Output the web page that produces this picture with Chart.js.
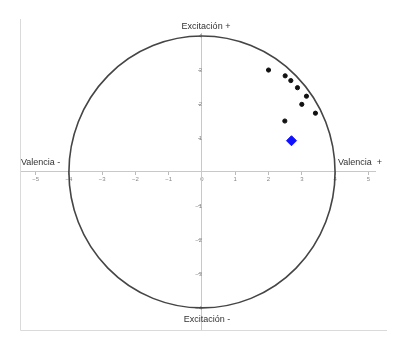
<!DOCTYPE html>
<html>
<head>
<meta charset="utf-8">
<script src="https://cdn.jsdelivr.net/npm/chart.js@4/dist/chart.umd.min.js"></script>
<style>
html,body{margin:0;padding:0;background:#fff;}
canvas{display:block;}
</style>
</head>
<body>
<canvas id="c" width="419" height="348"></canvas>
<script>
// ---- data ----
const valencia = [2.0, 2.5, 2.67, 2.87, 3.14, 3.0, 3.41, 2.49];
const excitacion = [3.0, 2.83, 2.69, 2.48, 2.23, 1.99, 1.73, 1.5];
const meanValencia = [2.69];
const meanExcitacion = [0.92];
const xTicks = [-5, -4, -3, -2, -1, 0, 1, 2, 3, 4, 5];
const yTicks = [-4, -3, -2, -1, 1, 2, 3, 4];
const circleRadius = 4;
const axisLabels = ['Excitación +', 'Excitación -', 'Valencia -', 'Valencia  +'];

const points = valencia.map((v, i) => ({x: v, y: excitacion[i]}));
const meanPoint = meanValencia.map((v, i) => ({x: v, y: meanExcitacion[i]}));

const decor = {
  id: 'decor',
  beforeDatasetsDraw(chart) {
    const {ctx, scales: {x, y}} = chart;
    ctx.save();
    // frame (left + bottom)
    ctx.strokeStyle = '#dadada';
    ctx.lineWidth = 1;
    ctx.beginPath();
    ctx.moveTo(20.5, 19);
    ctx.lineTo(20.5, 330.5);
    ctx.lineTo(387, 330.5);
    ctx.stroke();
    // circle
    const cx = x.getPixelForValue(0), cy = y.getPixelForValue(0);
    const rx = x.getPixelForValue(circleRadius) - cx;
    const ry = cy - y.getPixelForValue(circleRadius);
    ctx.strokeStyle = '#454545';
    ctx.lineWidth = 1.6;
    ctx.beginPath();
    ctx.ellipse(cx, cy, rx, ry, 0, 0, Math.PI * 2);
    ctx.stroke();
    // labels
    ctx.fillStyle = '#333';
    ctx.font = '9px "Liberation Sans", Arial, sans-serif';
    ctx.textBaseline = 'middle';
    ctx.textAlign = 'center';
    ctx.fillText(axisLabels[0], 206, 27);
    ctx.fillText(axisLabels[1], 207, 320);
    ctx.textAlign = 'left';
    ctx.fillText(axisLabels[2], 21, 163);
    ctx.fillText(axisLabels[3], 338, 163);
    ctx.restore();
  }
};

new Chart(document.getElementById('c'), {
  type: 'scatter',
  data: {
    datasets: [
      {
        data: points,
        backgroundColor: '#111',
        borderColor: '#111',
        pointRadius: 2.1,
        pointHoverRadius: 2.1,
        pointStyle: 'circle'
      },
      {
        data: meanPoint,
        backgroundColor: '#1010ff',
        borderColor: '#1010ff',
        pointRadius: 5,
        pointHoverRadius: 5,
        pointStyle: 'rectRot'
      }
    ]
  },
  plugins: [decor],
  options: {
    responsive: false,
    animation: false,
    events: [],
    layout: {padding: {left: 20, right: 44, top: 33, bottom: 18}},
    plugins: {legend: {display: false}, tooltip: {enabled: false}},
    scales: {
      x: {
        type: 'linear',
        min: -5.47, max: 5.2,
        position: {y: 0},
        afterFit: s => { s.height = 0; },
        afterBuildTicks: s => { s.ticks = xTicks.map(v => ({value: v})); },
        grid: {display: true, drawOnChartArea: false, drawTicks: true, tickLength: 3, color: '#bbb'},
        border: {display: true, color: '#c8c8c8', width: 1},
        ticks: {
          autoSkip: false, maxRotation: 0, padding: 1,
          color: '#888',
          font: {size: 6, family: '"Liberation Sans", Arial, sans-serif'},
          callback: v => (v < 0 ? '\u2212' + Math.abs(v) : String(v))
        }
      },
      y: {
        type: 'linear',
        min: -4.65, max: 4.09,
        position: {x: 0},
        afterFit: s => { s.width = 0; },
        afterBuildTicks: s => { s.ticks = yTicks.map(v => ({value: v})); },
        grid: {display: true, drawOnChartArea: false, drawTicks: true, tickLength: 3, color: '#bbb'},
        border: {display: true, color: '#c8c8c8', width: 1},
        ticks: {
          autoSkip: false, padding: 1,
          color: '#888',
          font: {size: 6, family: '"Liberation Sans", Arial, sans-serif'},
          callback: v => (v < 0 ? '\u2212' + Math.abs(v) : String(v))
        }
      }
    }
  }
});
</script>
</body>
</html>
